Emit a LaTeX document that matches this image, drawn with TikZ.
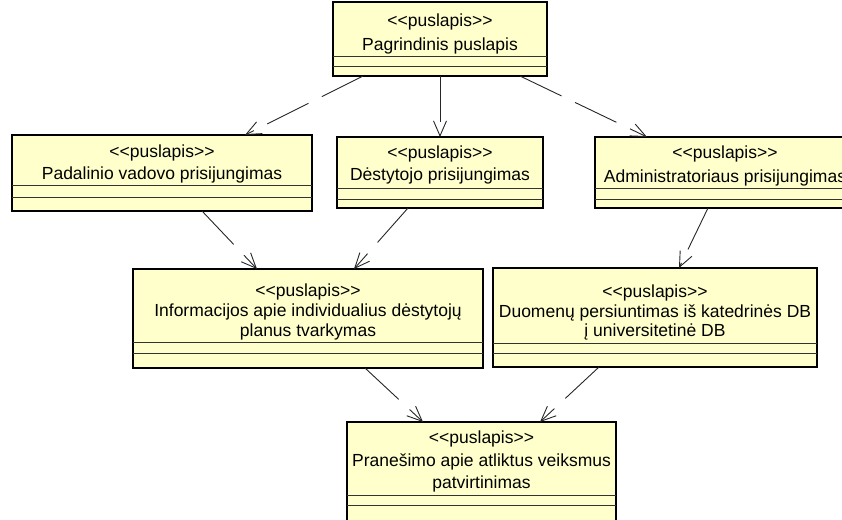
\documentclass[tikz,border=0pt]{standalone}
\usepackage{fontspec}
\setmainfont{Liberation Sans}
\usetikzlibrary{arrows.meta}
\definecolor{classfill}{RGB}{255,255,204}
% stereotype label, kerns keep the angle brackets from merging
\newcommand\stereotype[1]{<\kern0pt<#1>\kern0pt>}
\begin{document}
\begin{tikzpicture}[x=1pt,y=-1pt,
  cls/.style={draw=black, fill=classfill, line width=1.1pt, inner sep=0pt, outer sep=0pt, anchor=north west},
  lbl/.style={anchor=base, inner sep=0pt, font=\fontsize{17.5}{21}\selectfont},
  sep/.style={draw=black!80, line width=0.9pt},
  dep/.style={draw=black!85, line width=0.9pt, dash pattern=on 46pt off 15pt,
              -{Straight Barb[length=15pt,width=13pt]}}]
\useasboundingbox (0,0) rectangle (842,519);
\clip (0,0) rectangle (842,519);

% home page
\node[cls, minimum width=214pt, minimum height=74pt] (home) at (333,2) {};
\draw[sep] (home.west |- 0,56) -- (home.east |- 0,56);
\draw[sep] (home.west |- 0,66) -- (home.east |- 0,66);
\node[lbl] (home-st) at (440,27) {\stereotype{puslapis}};
\node[lbl] (home-nm) at (440,50) {Pagrindinis puslapis};

% unit head login
\node[cls, minimum width=300pt, minimum height=76pt] (unit) at (12,135) {};
\draw[sep] (unit.west |- 0,185) -- (unit.east |- 0,185);
\draw[sep] (unit.west |- 0,197) -- (unit.east |- 0,197);
\node[lbl] (unit-st) at (162,157) {\stereotype{puslapis}};
\node[lbl] (unit-nm) at (162,179) {Padalinio vadovo prisijungimas};

% lecturer login
\node[cls, minimum width=206pt, minimum height=71pt] (lect) at (337,137) {};
\draw[sep] (lect.west |- 0,188) -- (lect.east |- 0,188);
\draw[sep] (lect.west |- 0,199) -- (lect.east |- 0,199);
\node[lbl] (lect-st) at (440,158) {\stereotype{puslapis}};
\node[lbl] (lect-nm) at (440,180) {Dėstytojo prisijungimas};

% administrator login
\node[cls, minimum width=260pt, minimum height=71pt] (admin) at (595,137) {};
\draw[sep] (admin.west |- 0,188) -- (admin.east |- 0,188);
\draw[sep] (admin.west |- 0,199) -- (admin.east |- 0,199);
\node[lbl] (admin-st) at (725,158) {\stereotype{puslapis}};
\node[lbl] (admin-nm) at (725,182) {Administratoriaus prisijungimas};

% individual plans management
\node[cls, minimum width=350pt, minimum height=99pt] (plans) at (133,269) {};
\draw[sep] (plans.west |- 0,342) -- (plans.east |- 0,342);
\draw[sep] (plans.west |- 0,353) -- (plans.east |- 0,353);
\node[lbl] (plans-st) at (308,296) {\stereotype{puslapis}};
\node[lbl] (plans-n1) at (308,316) {Informacijos apie individualius dėstytojų};
\node[lbl] (plans-n2) at (308,336) {planus tvarkymas};

% data transfer
\node[cls, minimum width=324pt, minimum height=99pt] (transfer) at (493,268) {};
\draw[sep] (transfer.west |- 0,343) -- (transfer.east |- 0,343);
\draw[sep] (transfer.west |- 0,353) -- (transfer.east |- 0,353);
\node[lbl] (transfer-st) at (655,297) {\stereotype{puslapis}};
\node[lbl] (transfer-n1) at (655,317) {Duomenų persiuntimas iš katedrinės DB};
\node[lbl] (transfer-n2) at (655,336) {į universitetinė DB};

% confirmation page
\node[cls, minimum width=269pt, minimum height=105pt] (notice) at (347,422) {};
\draw[sep] (notice.west |- 0,495) -- (notice.east |- 0,495);
\draw[sep] (notice.west |- 0,505) -- (notice.east |- 0,505);
\node[lbl] (notice-st) at (481.5,443) {\stereotype{puslapis}};
\node[lbl] (notice-n1) at (481.5,466) {Pranešimo apie atliktus veiksmus};
\node[lbl] (notice-n2) at (481.5,488) {patvirtinimas};

% navigation dependencies
\draw[dep] ([xshift=-77pt]home.south) -- ([xshift=83pt]unit.north);
\draw[dep] (home.south) -- (lect.north);
\draw[dep] ([xshift=80pt]home.south) -- ([xshift=-78pt]admin.north);
\draw[dep] ([xshift=40pt]unit.south) -- ([xshift=-51pt]plans.north);
\draw[dep] ([xshift=-32pt]lect.south) -- ([xshift=46pt]plans.north);
\draw[dep] ([xshift=-17pt]admin.south) -- ([xshift=24pt]transfer.north);
\draw[dep] ([xshift=57pt]plans.south) -- ([xshift=-58.5pt]notice.north);
\draw[dep] ([xshift=-56pt]transfer.south) -- ([xshift=58.5pt]notice.north);
\end{tikzpicture}
\end{document}
